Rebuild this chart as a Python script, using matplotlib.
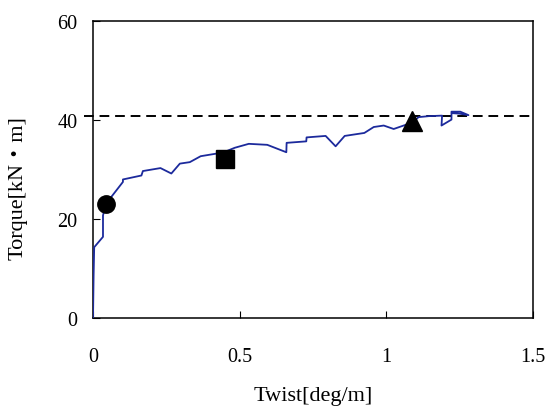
import matplotlib
matplotlib.use("Agg")
import matplotlib.pyplot as plt

twist = [0.0, 0.002, 0.004, 0.034, 0.034, 0.043, 0.102, 0.102, 0.165, 0.170, 0.230, 0.267,
         0.296, 0.330, 0.367, 0.418, 0.450, 0.483, 0.531, 0.594, 0.659, 0.660, 0.727, 0.728,
         0.793, 0.827, 0.858, 0.925, 0.957, 0.991, 1.025, 1.088, 1.110, 1.145, 1.190, 1.188,
         1.222, 1.222, 1.222, 1.252, 1.280, 1.250, 1.225]
torque = [0.0, 8.6, 14.3, 16.4, 20.7, 23.0, 27.5, 28.0, 28.8, 29.7, 30.3, 29.2,
          31.2, 31.5, 32.7, 33.2, 33.6, 34.4, 35.2, 35.0, 33.5, 35.4, 35.7, 36.5,
          36.8, 34.7, 36.8, 37.4, 38.6, 38.9, 38.2, 39.5, 40.6, 40.8, 40.9, 38.9,
          40.1, 40.8, 41.7, 41.7, 41.0, 41.3, 41.4]

circle_pt = (0.043, 23.0)
square_pt = (0.45, 32.2)
triangle_pt = (1.088, 39.9)
limit_torque = 40.9

xticks = [0, 0.5, 1, 1.5]
xticklabels = ["0", "0.5", "1", "1.5"]
yticks = [0, 20, 40, 60]

plt.rcParams['font.family'] = ['Liberation Serif', 'Noto Sans CJK JP']

fig = plt.figure(figsize=(5.55, 4.1), dpi=100)
ax = fig.add_axes([0.1676, 0.222, 0.7928, 0.724])

ax.plot(twist, torque, color="#1c2a9c", lw=1.3, zorder=3)
ax.plot([-0.03, 1.5], [limit_torque, limit_torque], color="black", lw=1.4,
        dashes=(5, 3), clip_on=False, zorder=2)
ax.plot(*circle_pt, marker="o", ms=12.5, color="black", zorder=4)
ax.plot(*square_pt, marker="s", ms=13, color="black", zorder=4)
ax.plot(*triangle_pt, marker="^", ms=14, color="black", zorder=4)

ax.set_xlim(0, 1.5)
ax.set_ylim(0, 60)
ax.set_xticks(xticks)
ax.set_xticklabels(xticklabels)
ax.set_yticks(yticks)
ax.tick_params(axis="both", direction="in", length=5, width=0.8, labelsize=14.5)
ax.tick_params(axis="x", pad=21)
ax.tick_params(axis="y", pad=11)
for s in ax.spines.values():
    s.set_linewidth(1.1)

ax.set_xlabel("Twist[deg/m]", fontsize=16, labelpad=14)
ax.set_ylabel("Torque[kN・m]", fontsize=16)
ax.yaxis.set_label_coords(-0.148, 0.44)

fig.savefig("out.png", dpi=100)
